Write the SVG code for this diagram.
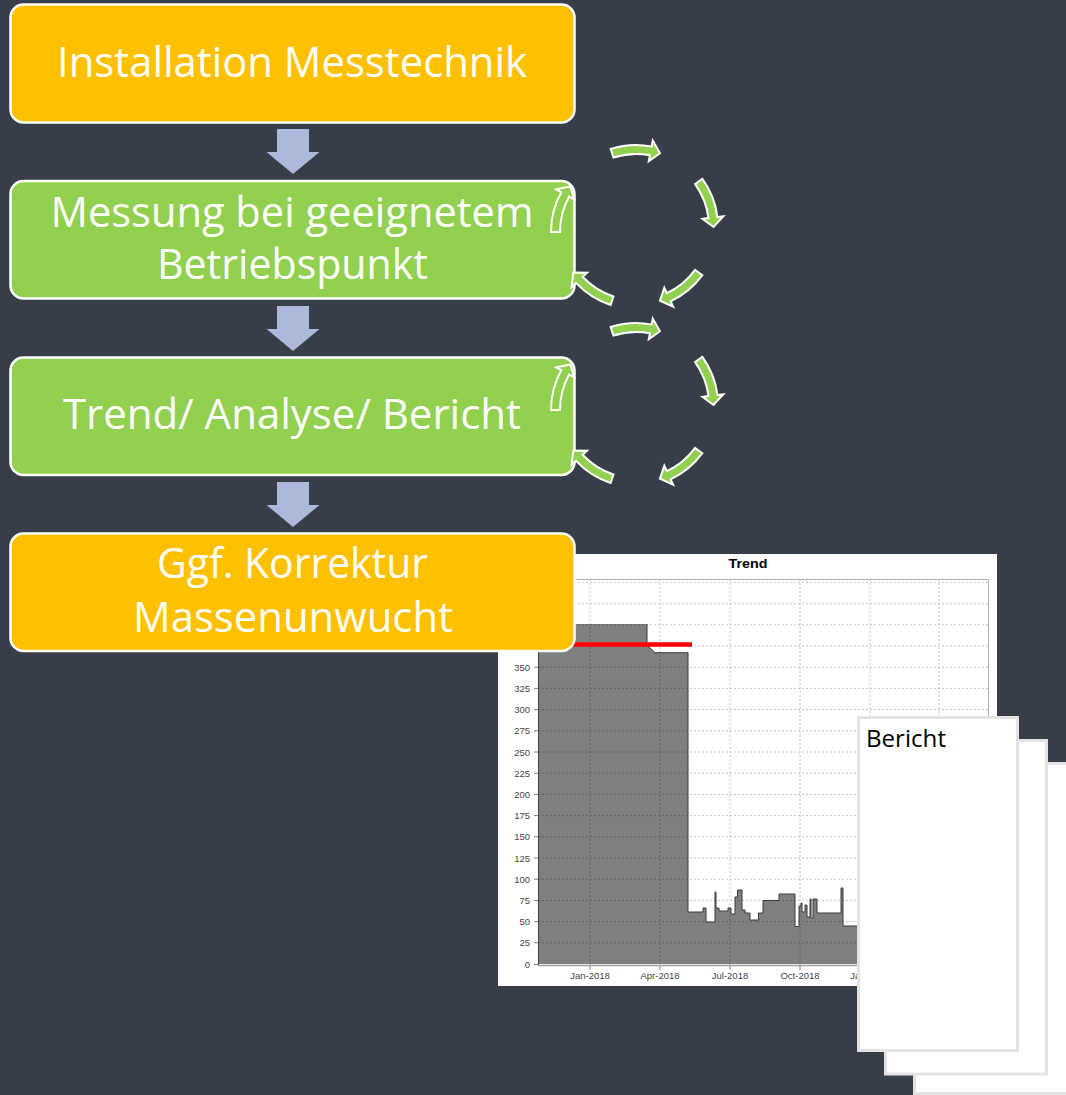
<svg xmlns="http://www.w3.org/2000/svg" xmlns:xlink="http://www.w3.org/1999/xlink" width="1066" height="1095" viewBox="0 0 1066 1095">
<style>
.node{stroke:#FFFFFF;stroke-width:2.5}
.orange{fill:#FFC000}
.green{fill:#92D050}
.ntext{font-family:"Open Sans","Noto Sans",sans-serif;font-size:42px;fill:#FFFFFF;text-anchor:middle}
.down{fill:#ACB9DB}
.cyc{fill:#92D050;stroke:#FFFFFF;stroke-width:2;stroke-linejoin:miter}
.grid{stroke:#C4C4C4;stroke-width:1;stroke-dasharray:2 2;fill:none}
.ylab{font-family:"Liberation Sans",Arial,sans-serif;font-size:9.5px;fill:#444;text-anchor:end}
.xlab{font-family:"Liberation Sans",Arial,sans-serif;font-size:9.5px;fill:#444;text-anchor:middle}
.page{fill:#FFFFFF;stroke:#E3E3E3;stroke-width:3}
</style>
<defs>
<path id="carrow" d="M -25.34 -78.0 A 82 82 0 0 1 15.65 -80.49 L 16.79 -86.38 L 23.95 -73.71 L 12.78 -65.77 L 13.93 -71.66 A 73 73 0 0 0 -22.56 -69.43 Z"/>
<path id="darrow" d="M -15.5 0 H 16.5 V 23 H 27 L 0.5 45 L -26 23 H -15.5 Z"/>
</defs>
<rect x="0" y="0" width="1066" height="1095" fill="#383E48"/>

<g id="chart">
<rect x="498" y="554" width="499" height="432" fill="#FFFFFF"/>
<text x="748" y="568" font-family="Liberation Sans,Arial,sans-serif" font-size="13.5" font-weight="bold" text-anchor="middle" fill="#000" textLength="39" lengthAdjust="spacingAndGlyphs">Trend</text>
<g class="grid">
<path d="M538 942.8H988M538 921.6H988M538 900.4H988M538 879.2H988M538 858H988M538 836.8H988M538 815.6H988M538 794.4H988M538 773.2H988M538 752H988M538 730.8H988M538 709.6H988M538 688.4H988M538 667.2H988M538 646H988M538 624.8H988M538 603.6H988M538 582.4H988"/>
<path d="M590 579V965M660 579V965M730 579V965M800 579V965M870 579V965M939 579V965"/>
</g>
<polygon fill="#000000" fill-opacity="0.5" points="538,964 538,624 647,624 647,645 655,652.7 688,652.7 688,912 703,912 703,908 706,908 706,922 715,922 715,892 716,892 716,908 719,908 719,911 728,911 728,908 731,908 731,914 735,914 735,897 737.5,897 737.5,890 742,890 742,910 745,910 745,913 750,913 750,920 758.5,920 758.5,913 763,913 763,900.5 779,900.5 779,894 795,894 795,926.5 799,926.5 799,906 801,906 801,903 802,903 802,912 805,912 805,905 807,905 807,917 810,917 810,899 811,899 811,918 813,918 813,899 817,899 817,913 841,913 841,888 843,888 843,926 870,926 870,964"/>
<polyline fill="none" stroke="#3A3A3A" stroke-width="1" points="647,624 647,645 655,652.7 688,652.7 688,912 703,912 703,908 706,908 706,922 715,922 715,892 716,892 716,908 719,908 719,911 728,911 728,908 731,908 731,914 735,914 735,897 737.5,897 737.5,890 742,890 742,910 745,910 745,913 750,913 750,920 758.5,920 758.5,913 763,913 763,900.5 779,900.5 779,894 795,894 795,926.5 799,926.5 799,906 801,906 801,903 802,903 802,912 805,912 805,905 807,905 807,917 810,917 810,899 811,899 811,918 813,918 813,899 817,899 817,913 841,913 841,888 843,888 843,926 870,926"/>
<path d="M538 579.5H988.5V965" fill="none" stroke="#B0B0B0" stroke-width="1"/>
<path d="M538.5 579V966" stroke="#404040" stroke-width="1"/>
<path d="M538 965.5H988" stroke="#A0A0A0" stroke-width="1.5"/>
<path d="M534 964.5H538M534 942.8H538M534 921.6H538M534 900.4H538M534 879.2H538M534 858H538M534 836.8H538M534 815.6H538M534 794.4H538M534 773.2H538M534 752H538M534 730.8H538M534 709.6H538M534 688.4H538M534 667.2H538" stroke="#808080" stroke-width="1"/>
<path d="M590 966V970M660 966V970M730 966V970M800 966V970M870 966V970" stroke="#808080" stroke-width="1"/>
<text class="ylab" x="530" y="967.5">0</text>
<text class="ylab" x="530" y="946.3">25</text>
<text class="ylab" x="530" y="925.1">50</text>
<text class="ylab" x="530" y="903.9">75</text>
<text class="ylab" x="530" y="882.7">100</text>
<text class="ylab" x="530" y="861.5">125</text>
<text class="ylab" x="530" y="840.3">150</text>
<text class="ylab" x="530" y="819.1">175</text>
<text class="ylab" x="530" y="797.9">200</text>
<text class="ylab" x="530" y="776.7">225</text>
<text class="ylab" x="530" y="755.5">250</text>
<text class="ylab" x="530" y="734.3">275</text>
<text class="ylab" x="530" y="713.1">300</text>
<text class="ylab" x="530" y="691.9">325</text>
<text class="ylab" x="530" y="670.7">350</text>
<text class="xlab" x="590" y="978.5">Jan-2018</text>
<text class="xlab" x="660" y="978.5">Apr-2018</text>
<text class="xlab" x="730" y="978.5">Jul-2018</text>
<text class="xlab" x="800" y="978.5">Oct-2018</text>
<text class="xlab" x="870" y="978.5">Jan-2019</text>
<path d="M573 644.5H692" stroke="#FF0000" stroke-width="4.5"/>
</g>

<g id="pages">
<rect class="page" x="914.5" y="763.5" width="160" height="330"/>
<rect class="page" x="885.5" y="740.5" width="161" height="333.5"/>
<rect class="page" x="858.5" y="717.5" width="159" height="333"/>
<text x="866" y="747" font-family="Open Sans,Noto Sans,sans-serif" font-size="24" fill="#000" textLength="80" lengthAdjust="spacingAndGlyphs">Bericht</text>
</g>

<g id="node1">
<rect class="node orange" x="10.5" y="4.5" width="564" height="118" rx="13"/>
<text class="ntext" x="292" y="77" textLength="470" lengthAdjust="spacingAndGlyphs">Installation Messtechnik</text>
</g>
<g id="node2">
<rect class="node green" x="10.5" y="181" width="564" height="117.5" rx="13"/>
<text class="ntext" x="292" y="227" textLength="483" lengthAdjust="spacingAndGlyphs">Messung bei geeignetem</text>
<text class="ntext" x="292.5" y="279" textLength="271" lengthAdjust="spacingAndGlyphs">Betriebspunkt</text>
</g>
<g id="node3">
<rect class="node green" x="10.5" y="357.5" width="564" height="117.5" rx="13"/>
<text class="ntext" x="292" y="429" textLength="458" lengthAdjust="spacingAndGlyphs">Trend/ Analyse/ Bericht</text>
</g>
<g id="node4">
<rect class="node orange" x="10.5" y="533.5" width="564" height="117.5" rx="13"/>
<text class="ntext" x="292.5" y="578" textLength="271" lengthAdjust="spacingAndGlyphs">Ggf. Korrektur</text>
<text class="ntext" x="293" y="632" textLength="320" lengthAdjust="spacingAndGlyphs">Massenunwucht</text>
</g>

<g id="connectors">
<use xlink:href="#darrow" href="#darrow" class="down" transform="translate(292.5,129)"/>
<use xlink:href="#darrow" href="#darrow" class="down" transform="translate(292.5,306)"/>
<use xlink:href="#darrow" href="#darrow" class="down" transform="translate(292.5,482)"/>
</g>

<g id="cycle1" transform="translate(636,227)">
<use xlink:href="#carrow" href="#carrow" class="cyc"/>
<use xlink:href="#carrow" href="#carrow" class="cyc" transform="rotate(72)"/>
<use xlink:href="#carrow" href="#carrow" class="cyc" transform="rotate(144)"/>
<use xlink:href="#carrow" href="#carrow" class="cyc" transform="rotate(216)"/>
<use xlink:href="#carrow" href="#carrow" class="cyc" transform="translate(-3,5) rotate(288)"/>
</g>
<g id="cycle2" transform="translate(636,405)">
<use xlink:href="#carrow" href="#carrow" class="cyc"/>
<use xlink:href="#carrow" href="#carrow" class="cyc" transform="rotate(72)"/>
<use xlink:href="#carrow" href="#carrow" class="cyc" transform="rotate(144)"/>
<use xlink:href="#carrow" href="#carrow" class="cyc" transform="rotate(216)"/>
<use xlink:href="#carrow" href="#carrow" class="cyc" transform="translate(-3,5) rotate(288)"/>
</g>
</svg>
